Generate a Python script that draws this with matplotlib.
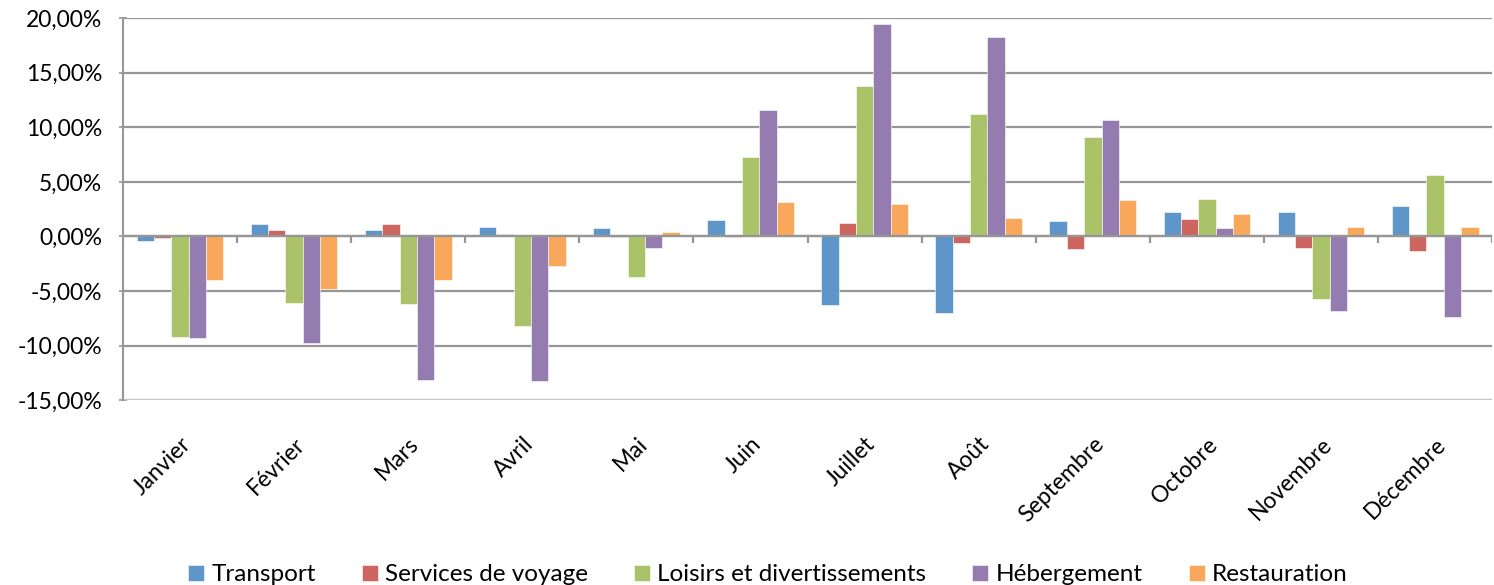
import matplotlib
matplotlib.use("Agg")
import matplotlib.pyplot as plt
import numpy as np
from matplotlib.ticker import FuncFormatter

plt.rcParams['font.family'] = ['Lato', 'DejaVu Sans']

months = ["Janvier", "Février", "Mars", "Avril", "Mai", "Juin", "Juillet",
          "Août", "Septembre", "Octobre", "Novembre", "Décembre"]
series_names = ["Transport", "Services de voyage", "Loisirs et divertissements",
                "Hébergement", "Restauration"]

transport = [-0.43, 1.16, 0.60, 0.82, 0.73, 1.53, -6.28, -6.98, 1.37, 2.26, 2.26, 2.81]
services = [-0.10, 0.60, 1.16, 0.18, -0.05, -0.05, 1.22, -0.61, -1.19, 1.62, -1.04, -1.37]
loisirs = [-9.24, -6.13, -6.22, -8.20, -3.75, 7.25, 13.77, 11.20, 9.08, 3.45, -5.70, 5.61]
hebergement = [-9.33, -9.80, -13.15, -13.24, -1.04, 11.57, 19.44, 18.25, 10.66, 0.79, -6.83, -7.38]
restauration = [-4.03, -4.85, -3.97, -2.71, 0.43, 3.11, 2.99, 1.71, 3.36, 2.01, 0.88, 0.88]

colors = ["#5F96C9", "#CD6661", "#AAC368", "#947BB0", "#F9A75A"]
all_series = [transport, services, loisirs, hebergement, restauration]

fig = plt.figure(figsize=(14.94, 5.85), dpi=100)
ax = fig.add_axes([0.0823, 0.316, 0.9165, 0.653])

x = np.arange(len(months))
bw = 0.152
for i, (vals, c, name) in enumerate(zip(all_series, colors, series_names)):
    ax.bar(x + (i - 2) * bw, vals, width=bw, color=c, label=name,
           edgecolor="white", linewidth=0.4)

ax.set_xlim(-0.5, len(months) - 0.5)
ax.set_ylim(-15, 20)
ax.set_yticks(np.arange(-15, 20.1, 5))
ax.yaxis.set_major_formatter(FuncFormatter(lambda v, p: f"{v:.2f}%".replace(".", ",")))
ax.yaxis.grid(True, color="#969696", linewidth=1.6)
ax.set_axisbelow(True)
for s in ["top", "right", "bottom"]:
    ax.spines[s].set_visible(False)
ax.spines["left"].set_color("#969696")
ax.spines["left"].set_linewidth(1.5)
ax.tick_params(axis="y", length=6, direction="inout", color="#969696", width=1.2,
               labelsize=16.5, pad=12)

# zero axis line with category boundary ticks
ax.axhline(0, color="#969696", linewidth=1.6, zorder=3)
bounds = np.arange(len(months) + 1) - 0.5
ax.vlines(bounds, -0.62, 0, color="#969696", linewidth=1.6, zorder=3)
ax.axhline(-15, color="#D0D0D0", linewidth=1.2)

ax.set_xticks(x)
ax.set_xticklabels(months, rotation=45, ha="right", rotation_mode="anchor", fontsize=16.5)
ax.tick_params(axis="x", length=0, pad=24)

fig.legend(loc="lower center", bbox_to_anchor=(0.514, -0.038), ncol=5, frameon=False,
           fontsize=17.5, handlelength=0.65, handleheight=0.65, handletextpad=0.3,
           columnspacing=1.9)

fig.savefig("out.png", dpi=100)
